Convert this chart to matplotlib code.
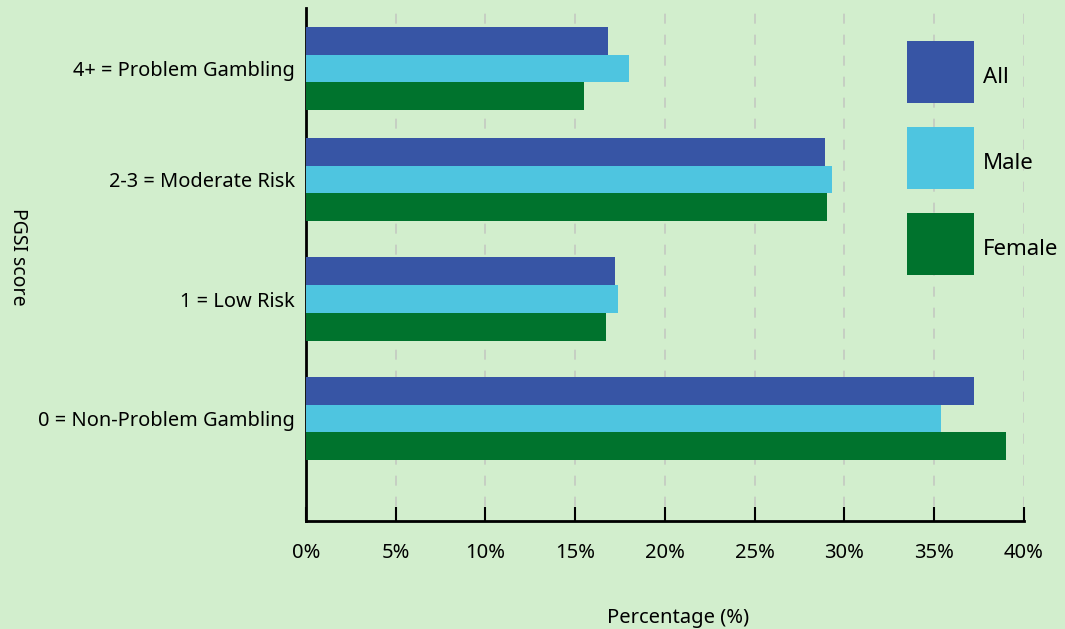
import matplotlib
matplotlib.use("Agg")
import matplotlib.pyplot as plt
import matplotlib.transforms as mtransforms
import numpy as np

plt.rcParams["font.family"] = ["Noto Sans", "DejaVu Sans"]

# PGSI score bands, bottom to top
categories = ["0 = Non-Problem Gambling", "1 = Low Risk",
              "2-3 = Moderate Risk", "4+ = Problem Gambling"]
all_pct = [37.2, 17.2, 28.9, 16.8]
male_pct = [35.4, 17.4, 29.3, 18.0]
female_pct = [39.0, 16.7, 29.0, 15.5]
xticks = [0, 5, 10, 15, 20, 25, 30, 35, 40]

# group centres (top group sits a little closer to its neighbour)
ypos = np.array([0, 1.0, 2.0, 2.93])

bg = "#d2eecd"
colors = {"All": "#3755a5", "Male": "#4ec5e0", "Female": "#00732d"}

fig = plt.figure(figsize=(10.65, 6.29), dpi=100, facecolor=bg)
ax = fig.add_axes([0.2873, 0.1717, 0.9615 - 0.2873, 0.9873 - 0.1717])
ax.set_facecolor(bg)

h = 0.232
ax.barh(ypos + h, all_pct, height=h, color=colors["All"], label="All", zorder=3)
ax.barh(ypos, male_pct, height=h, color=colors["Male"], label="Male", zorder=3)
ax.barh(ypos - h, female_pct, height=h, color=colors["Female"], label="Female", zorder=3)

ax.set_xlim(0, 40)
ax.set_ylim(-0.858, 3.436)
ax.set_xticks(xticks)
ax.set_xticklabels([f"{t}%" for t in xticks])
ax.set_yticks(ypos)
ax.set_yticklabels(categories)

ax.tick_params(axis="x", direction="in", length=10, width=1.5, pad=16,
               labelsize=14.5, color="black")
ax.tick_params(axis="y", length=0, pad=8, labelsize=14.4)

for s in ["top", "right"]:
    ax.spines[s].set_visible(False)
ax.spines["left"].set_linewidth(2)
ax.spines["bottom"].set_linewidth(2)

ax.grid(axis="x", color="#c4c9c2", linestyle=(4, (6, 6.6)), linewidth=1.2, zorder=0)

leg = ax.legend(loc="upper left", bbox_to_anchor=(907 / 1065, 1 - 41 / 629),
                bbox_transform=fig.transFigure, frameon=False,
                fontsize=16, handlelength=3.02, handleheight=3.92,
                labelspacing=1.08, handletextpad=0.4, borderaxespad=0,
                borderpad=0)
# nudge legend labels down so they sit at the middle of each swatch
shift = mtransforms.ScaledTranslation(0, -5 / 100, fig.dpi_scale_trans)
for t in leg.get_texts():
    t.set_transform(t.get_transform() + shift)

fig.text(17.5 / 1065, 1 - 257 / 629, "PGSI score", rotation=270,
         ha="center", va="center", fontsize=14)
fig.text(678 / 1065, 1 - 618 / 629, "Percentage (%)", ha="center",
         va="center", fontsize=14.5)

fig.savefig("out.png", dpi=100, facecolor=bg)
